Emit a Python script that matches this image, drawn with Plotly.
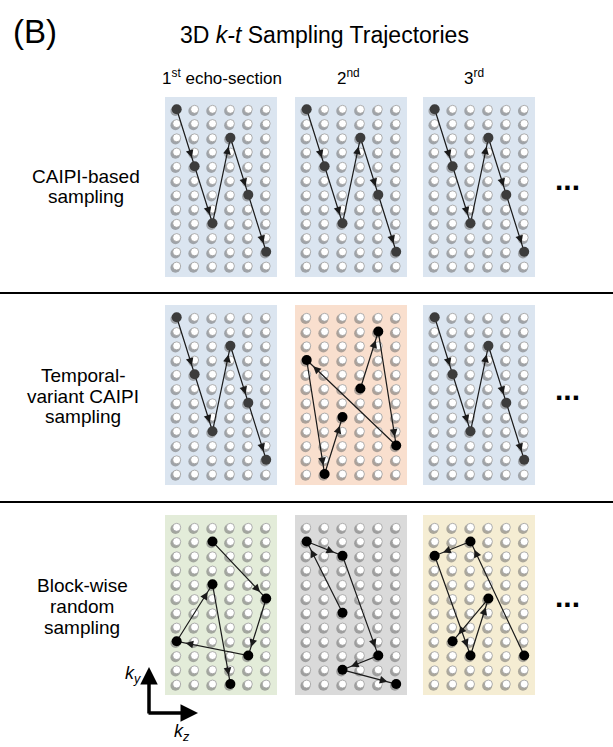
import plotly.graph_objects as go
import numpy as np

W, H = 613, 747
N_KZ, N_KY = 6, 12

title_text = "3D <i>k-t</i> Sampling Trajectories"
panel_tag = "(B)"
col_headers = ["1<sup>st</sup> echo-section", "2<sup>nd</sup>", "3<sup>rd</sup>"]
row_labels = [["CAIPI-based", "sampling"],
              ["Temporal-", "variant CAIPI", "sampling"],
              ["Block-wise", "random", "sampling"]]

# sampled (kz column, ky row) positions in acquisition order
caipi_kz = [0, 1, 2, 3, 4, 5]
caipi_ky = [0, 4, 8, 2, 6, 10]
tv2_kz = [3, 4, 5, 0, 1, 2]
tv2_ky = [5, 1, 9, 3, 11, 7]
bw1_kz = [2, 5, 4, 0, 2, 3]
bw1_ky = [1, 5, 9, 8, 4, 11]
bw2_kz = [2, 0, 2, 4, 2, 5]
bw2_ky = [6, 1, 2, 9, 10, 11]
bw3_kz = [5, 2, 0, 2, 3, 1]
bw3_ky = [9, 1, 2, 9, 5, 8]

trajectories = [
    [(caipi_kz, caipi_ky), (caipi_kz, caipi_ky), (caipi_kz, caipi_ky)],
    [(caipi_kz, caipi_ky), (tv2_kz, tv2_ky), (caipi_kz, caipi_ky)],
    [(bw1_kz, bw1_ky), (bw2_kz, bw2_ky), (bw3_kz, bw3_ky)],
]

BLUE, ORANGE, GREEN, GRAY, YELLOW = "#dbe5f0", "#f9dfce", "#e3ecd9", "#dadada", "#f5edd3"
panel_colors = [[BLUE, BLUE, BLUE], [BLUE, ORANGE, BLUE], [GREEN, GRAY, YELLOW]]
point_colors = [["#3c3c3c"] * 3, ["#3c3c3c", "#000000", "#3c3c3c"], ["#000000"] * 3]

# layout geometry (pixels)
panel_left = [165, 295, 423]
panel_top = [97, 305, 515]
panel_w, panel_h = 112, 180
px_per_kz, px_per_ky = 17.9, 14.25
x_lo = -11.7 / px_per_kz
y_lo = -12.3 / px_per_ky
x_range = [x_lo, x_lo + panel_w / px_per_kz]
y_range = [y_lo + panel_h / px_per_ky, y_lo]

fig = go.Figure()
gkz, gky = np.meshgrid(np.arange(N_KZ), np.arange(N_KY))
gkz, gky = gkz.ravel(), gky.ravel()

layout = {}
annotations = []
shapes = []
idx = 0
for r in range(3):
    for c in range(3):
        idx += 1
        xa = "x" if idx == 1 else f"x{idx}"
        ya = "y" if idx == 1 else f"y{idx}"
        xkey = "xaxis" if idx == 1 else f"xaxis{idx}"
        ykey = "yaxis" if idx == 1 else f"yaxis{idx}"
        x0 = panel_left[c] / W
        x1 = (panel_left[c] + panel_w) / W
        y1 = 1 - panel_top[r] / H
        y0 = 1 - (panel_top[r] + panel_h) / H
        layout[xkey] = dict(domain=[x0, x1], range=x_range, visible=False, anchor=ya, fixedrange=True)
        layout[ykey] = dict(domain=[y0, y1], range=y_range, visible=False, anchor=xa, fixedrange=True)
        shapes.append(dict(type="rect", xref=f"{xa} domain", yref=f"{ya} domain",
                           x0=0, x1=1, y0=0, y1=1, fillcolor=panel_colors[r][c],
                           line=dict(width=0), layer="below"))
        # grid shadow
        fig.add_trace(go.Scatter(x=gkz - 0.07, y=gky + 0.12, mode="markers", xaxis=xa, yaxis=ya,
                                 marker=dict(size=10, color="rgba(110,110,110,0.55)", line=dict(width=0)),
                                 hoverinfo="skip", showlegend=False))
        fig.add_trace(go.Scatter(x=gkz, y=gky, mode="markers", xaxis=xa, yaxis=ya,
                                 marker=dict(size=8, color="white", line=dict(width=0.8, color="#9a9a9a")),
                                 hoverinfo="skip", showlegend=False))
        kz, ky = trajectories[r][c]
        col = point_colors[r][c]
        fig.add_trace(go.Scatter(x=kz, y=ky, mode="lines", xaxis=xa, yaxis=ya,
                                 line=dict(color="#1a1a1a", width=1.2),
                                 hoverinfo="skip", showlegend=False))
        fig.add_trace(go.Scatter(x=kz, y=ky, mode="markers", xaxis=xa, yaxis=ya,
                                 marker=dict(size=10, color=col, line=dict(width=0)),
                                 hoverinfo="skip", showlegend=False))
        for i in range(len(kz) - 1):
            ddx = (kz[i + 1] - kz[i]) * px_per_kz
            ddy = (ky[i + 1] - ky[i]) * px_per_ky
            L = float(np.hypot(ddx, ddy))
            f_head = 1 - 9.0 / L
            f_tail = 1 - 16.0 / L
            hx = kz[i] + (kz[i + 1] - kz[i]) * f_head
            hy = ky[i] + (ky[i + 1] - ky[i]) * f_head
            tx = kz[i] + (kz[i + 1] - kz[i]) * f_tail
            ty = ky[i] + (ky[i + 1] - ky[i]) * f_tail
            annotations.append(dict(x=hx, y=hy, ax=tx, ay=ty, xref=xa, yref=ya, axref=xa, ayref=ya,
                                    text="", showarrow=True, arrowhead=2, arrowsize=1.4,
                                    arrowwidth=1.1, arrowcolor="#1a1a1a"))

FONT = "Liberation Sans, Arial, sans-serif"


def label(px, py, text, size, **kw):
    d = dict(x=px / W, y=1 - py / H, xref="paper", yref="paper", text=text,
             showarrow=False, xanchor="center", yanchor="middle",
             font=dict(size=size, family=FONT, color="black"))
    d.update(kw)
    annotations.append(d)


label(35, 32, panel_tag, 33)
label(324, 35, title_text, 23)
header_x = [222, 348, 474]
for hx, t in zip(header_x, col_headers):
    label(hx, 77, t, 17)

label_x = [86, 83, 82]
label_first_y = [176, 375, 585]
LINE_GAP = 21
for lx, ly, lines in zip(label_x, label_first_y, row_labels):
    for k, t in enumerate(lines):
        label(lx, ly + k * LINE_GAP, t, 19)

dots_y = [187, 397, 604]
for dy in dots_y:
    label(567, dy - 8, "<b>...</b>", 30)

for sy in [293, 502]:
    shapes.append(dict(type="line", xref="paper", yref="paper", x0=0, x1=1,
                       y0=1 - sy / H, y1=1 - sy / H, line=dict(color="black", width=2)))

# k-space axis indicator
corner_x, corner_y = 149, 713
annotations.append(dict(x=corner_x / W, y=1 - 667 / H, xref="paper", yref="paper",
                        ax=0, ay=corner_y - 667 + 2, text="", showarrow=True,
                        arrowhead=2, arrowsize=1.0, arrowwidth=3.5, arrowcolor="black"))
annotations.append(dict(x=198 / W, y=1 - corner_y / H, xref="paper", yref="paper",
                        ax=-(198 - corner_x) - 2, ay=0, text="", showarrow=True,
                        arrowhead=2, arrowsize=1.0, arrowwidth=3.5, arrowcolor="black"))
label(133, 674, "<i>k</i><sub><i>y</i></sub>", 18)
label(182, 732, "<i>k</i><sub><i>z</i></sub>", 18)

fig.update_layout(width=W, height=H, margin=dict(l=0, r=0, t=0, b=0),
                  paper_bgcolor="white", plot_bgcolor="rgba(0,0,0,0)",
                  showlegend=False, annotations=annotations, shapes=shapes, **layout)
fig.write_html("out.html", config=dict(displayModeBar=False))
